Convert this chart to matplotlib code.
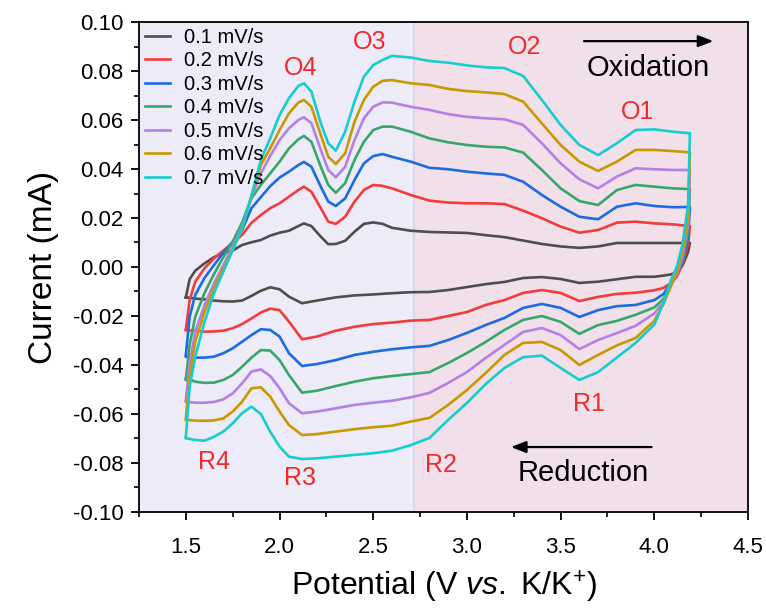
import numpy as np
import matplotlib
matplotlib.use("Agg")
import matplotlib.pyplot as plt
from matplotlib.ticker import MultipleLocator, FuncFormatter

plt.rcParams["font.family"] = ["Liberation Sans", "DejaVu Sans"]
plt.rcParams["axes.unicode_minus"] = False
plt.rcParams["mathtext.fontset"] = "custom"
plt.rcParams["mathtext.rm"] = "Liberation Sans"
plt.rcParams["mathtext.it"] = "Liberation Sans:italic"

# potentials (V) of the read-off points, anodic sweep then cathodic sweep
ox_potential = [1.50, 1.52, 1.55, 1.60, 1.65, 1.70, 1.75, 1.80, 1.85, 1.90, 1.95, 2.00, 2.05,
                2.10, 2.13, 2.17, 2.22, 2.26, 2.30, 2.35, 2.40, 2.45, 2.50, 2.55, 2.60, 2.70,
                2.80, 2.90, 3.00, 3.10, 3.20, 3.30, 3.40, 3.50, 3.60, 3.70, 3.80, 3.90, 4.00,
                4.10, 4.19]
red_potential = [4.19, 4.18, 4.15, 4.12, 4.09, 4.05, 4.00, 3.90, 3.80, 3.70, 3.60, 3.50, 3.40,
                 3.30, 3.20, 3.10, 3.00, 2.90, 2.80, 2.70, 2.60, 2.50, 2.40, 2.30, 2.20, 2.12,
                 2.05, 2.00, 1.95, 1.90, 1.85, 1.80, 1.75, 1.70, 1.65, 1.60, 1.55, 1.50]

# current (mA), anodic sweep
ox_01 = [-0.0124, -0.005, -0.0015, 0.0015, 0.004, 0.0056, 0.0067, 0.009, 0.0101, 0.011, 0.0128,
         0.014, 0.0148, 0.0167, 0.0178, 0.0167, 0.0124, 0.0093, 0.0094, 0.0107, 0.0144, 0.0176,
         0.0182, 0.0176, 0.016, 0.0148, 0.0143, 0.0141, 0.0139, 0.013, 0.0122, 0.0108, 0.0094,
         0.0084, 0.0078, 0.0084, 0.0098, 0.0098, 0.0098, 0.0098, 0.0098]
ox_02 = [-0.0257, -0.0135, -0.006, -0.0005, 0.0035, 0.0067, 0.0097, 0.0131, 0.018, 0.0212, 0.024,
         0.026, 0.0287, 0.0314, 0.0328, 0.0307, 0.024, 0.0185, 0.0176, 0.0205, 0.0267, 0.0314,
         0.0335, 0.0331, 0.0321, 0.0294, 0.0271, 0.0263, 0.026, 0.026, 0.0257, 0.023, 0.0199,
         0.0165, 0.014, 0.0151, 0.0181, 0.0185, 0.0178, 0.0174, 0.0167]
ox_03 = [-0.0359, -0.0203, -0.0114, -0.0044, 0.0008, 0.0058, 0.0103, 0.0151, 0.024, 0.0285, 0.033,
         0.0365, 0.0389, 0.0416, 0.0429, 0.0409, 0.0328, 0.0267, 0.0249, 0.028, 0.0355, 0.0423,
         0.0453, 0.0461, 0.045, 0.043, 0.0405, 0.0399, 0.0389, 0.0382, 0.0376, 0.0348, 0.0294,
         0.0246, 0.0205, 0.0195, 0.0246, 0.026, 0.0249, 0.0244, 0.0245]
ox_04 = [-0.0461, -0.0318, -0.0203, -0.0105, -0.0029, 0.004, 0.0103, 0.0182, 0.028, 0.0335, 0.0382,
         0.043, 0.0484, 0.0521, 0.0535, 0.0511, 0.0409, 0.0335, 0.0303, 0.0342, 0.0437, 0.0511,
         0.0559, 0.0573, 0.0573, 0.0552, 0.0525, 0.0509, 0.0498, 0.0491, 0.0488, 0.0467, 0.0396,
         0.0321, 0.0269, 0.0253, 0.0314, 0.0335, 0.0328, 0.0321, 0.0318]
ox_05 = [-0.0543, -0.0393, -0.0264, -0.0155, -0.0067, 0.0008, 0.0083, 0.0165, 0.0285, 0.0382,
         0.0453, 0.0518, 0.0566, 0.06, 0.0611, 0.0587, 0.0478, 0.0396, 0.0366, 0.0409, 0.0518,
         0.0607, 0.0654, 0.0672, 0.0671, 0.0654, 0.0641, 0.0624, 0.0613, 0.0607, 0.0603, 0.058,
         0.0505, 0.0423, 0.0358, 0.0321, 0.0369, 0.0403, 0.0399, 0.0396, 0.0396]
ox_06 = [-0.0618, -0.0448, -0.0305, -0.0182, -0.0087, -0.0005, 0.0069, 0.0158, 0.029, 0.0416,
         0.0484, 0.0559, 0.0627, 0.0671, 0.0682, 0.0654, 0.0539, 0.045, 0.042, 0.0464, 0.0593,
         0.0682, 0.0736, 0.076, 0.0763, 0.075, 0.0743, 0.0727, 0.0718, 0.0713, 0.0706, 0.0675,
         0.0586, 0.0498, 0.043, 0.0392, 0.043, 0.0478, 0.0478, 0.0473, 0.0468]
ox_07 = [-0.0693, -0.0489, -0.0366, -0.0223, -0.0107, -0.0019, 0.0069, 0.0158, 0.029, 0.0437,
         0.0525, 0.062, 0.0689, 0.0739, 0.075, 0.0716, 0.0587, 0.0505, 0.0475, 0.0552, 0.0675,
         0.0777, 0.0824, 0.0845, 0.0862, 0.0855, 0.0841, 0.0834, 0.0823, 0.0815, 0.0812, 0.078,
         0.0682, 0.058, 0.0498, 0.0457, 0.0505, 0.0559, 0.0562, 0.0552, 0.0546]

# current (mA), cathodic sweep
red_01 = [0.0098, 0.006, 0.0005, -0.002, -0.003, -0.0035, -0.004, -0.004, -0.005, -0.006, -0.0065,
          -0.0049, -0.0041, -0.0045, -0.0061, -0.007, -0.0082, -0.0094, -0.0102, -0.0103, -0.0107,
          -0.0112, -0.0116, -0.0124, -0.0137, -0.0148, -0.0121, -0.0091, -0.0083, -0.0097,
          -0.0118, -0.0137, -0.0141, -0.014, -0.0137, -0.0132, -0.0129, -0.0124]
red_02 = [0.0167, 0.009, 0.001, -0.004, -0.0065, -0.0085, -0.0095, -0.0105, -0.011, -0.0122,
          -0.0139, -0.0106, -0.0094, -0.0106, -0.0135, -0.0155, -0.0184, -0.02, -0.0216, -0.0219,
          -0.0227, -0.0233, -0.0244, -0.026, -0.0284, -0.0295, -0.0223, -0.0176, -0.017, -0.0186,
          -0.021, -0.0233, -0.025, -0.026, -0.0263, -0.0264, -0.0261, -0.0257]
red_03 = [0.0245, 0.012, 0.002, -0.003, -0.006, -0.011, -0.0135, -0.0155, -0.016, -0.0176, -0.0204,
          -0.0167, -0.0151, -0.0167, -0.0208, -0.0237, -0.0269, -0.0298, -0.0322, -0.0328, -0.0336,
          -0.0346, -0.0359, -0.038, -0.0396, -0.0404, -0.0352, -0.0284, -0.0257, -0.0254, -0.0278,
          -0.0305, -0.0332, -0.0352, -0.0366, -0.037, -0.037, -0.0366]
red_04 = [0.0318, 0.014, 0.003, -0.003, -0.007, -0.013, -0.0165, -0.0195, -0.022, -0.0237, -0.0273,
          -0.0224, -0.02, -0.0216, -0.0257, -0.0306, -0.0351, -0.0392, -0.0429, -0.0437, -0.0445,
          -0.0454, -0.0468, -0.0486, -0.0505, -0.0513, -0.0441, -0.038, -0.0341, -0.0339, -0.037,
          -0.0407, -0.0441, -0.0461, -0.0472, -0.0473, -0.0468, -0.0454]
red_05 = [0.0396, 0.017, 0.004, -0.003, -0.0075, -0.014, -0.019, -0.024, -0.027, -0.0298, -0.0335,
          -0.0278, -0.0249, -0.0265, -0.0318, -0.0371, -0.0429, -0.0473, -0.0514, -0.0532, -0.0546,
          -0.0554, -0.0563, -0.0577, -0.059, -0.0597, -0.0556, -0.0495, -0.0445, -0.0418, -0.0427,
          -0.0475, -0.0516, -0.054, -0.0551, -0.0554, -0.0554, -0.055]
red_06 = [0.0469, 0.02, 0.006, -0.002, -0.0075, -0.015, -0.022, -0.029, -0.032, -0.0359, -0.04,
          -0.0339, -0.0306, -0.031, -0.0359, -0.0433, -0.0502, -0.0563, -0.0616, -0.0631, -0.0648,
          -0.0654, -0.0662, -0.0672, -0.0682, -0.0686, -0.0645, -0.059, -0.0529, -0.0491, -0.0495,
          -0.055, -0.059, -0.0618, -0.0626, -0.0628, -0.0627, -0.0624]
red_07 = [0.0547, 0.025, 0.009, 0.0, -0.005, -0.0145, -0.0235, -0.031, -0.037, -0.0429, -0.0461,
          -0.0412, -0.0362, -0.0368, -0.0412, -0.0478, -0.0555, -0.0624, -0.0698, -0.0727, -0.075,
          -0.076, -0.0767, -0.0774, -0.0781, -0.0784, -0.0774, -0.0733, -0.0672, -0.06, -0.057,
          -0.0597, -0.0638, -0.0672, -0.0693, -0.0709, -0.0706, -0.0699]

scan_rates = ["0.1 mV/s", "0.2 mV/s", "0.3 mV/s", "0.4 mV/s", "0.5 mV/s", "0.6 mV/s", "0.7 mV/s"]
colors = ["#4d4d4d", "#f23b3b", "#1c6be0", "#36a76b", "#b47fe6", "#c99700", "#17cccc"]

peak_labels = ["O4", "O3", "O2", "O1", "R1", "R2", "R3", "R4"]
peak_pos = [(2.11, 0.0812), (2.48, 0.0918), (3.31, 0.0898), (3.91, 0.0633),
            (3.65, -0.0559), (2.86, -0.0808), (2.11, -0.0861), (1.65, -0.0796)]

ox_all = [ox_01, ox_02, ox_03, ox_04, ox_05, ox_06, ox_07]
red_all = [red_01, red_02, red_03, red_04, red_05, red_06, red_07]

fig = plt.figure(figsize=(7.66, 6.10), dpi=100)
ax = fig.add_axes([0.1815, 0.1607, 0.795, 0.8032])

# shaded regions
ax.axvspan(1.25, 2.72, color="#ecebf7", zorder=0, lw=0)
ax.axvspan(2.72, 4.5, color="#f1e0ea", zorder=0, lw=0)
ax.axvline(2.72, color="#dcd0e6", lw=1.2, zorder=0.5)

for ox, red, lab, c in zip(ox_all, red_all, scan_rates, colors):
    v = np.concatenate([ox_potential, red_potential])
    i = np.concatenate([ox, red])
    ax.plot(v, i, color=c, lw=1.9, label=lab, solid_joinstyle="round")

for lab, (x, y) in zip(peak_labels, peak_pos):
    ax.text(x, y, lab, color="#ee2a2a", fontsize=18, ha="center", va="center")

ax.annotate("", xy=(4.33, 0.0922), xytext=(3.61, 0.0922),
            arrowprops=dict(arrowstyle="-|>,head_length=0.9,head_width=0.35", color="black", lw=1.6))
ax.text(3.965, 0.0812, "Oxidation", fontsize=21, ha="center", va="center")
ax.annotate("", xy=(3.22, -0.0735), xytext=(4.0, -0.0735),
            arrowprops=dict(arrowstyle="-|>,head_length=0.9,head_width=0.35", color="black", lw=1.6))
ax.text(3.62, -0.0841, "Reduction", fontsize=21, ha="center", va="center")

ax.set_xlim(1.25, 4.5)
ax.set_ylim(-0.10, 0.10)
ax.set_xticks([1.5, 2.0, 2.5, 3.0, 3.5, 4.0, 4.5])
ax.xaxis.set_minor_locator(MultipleLocator(0.25))
ax.yaxis.set_major_locator(MultipleLocator(0.02))
ax.yaxis.set_minor_locator(MultipleLocator(0.01))
ax.xaxis.set_major_formatter(FuncFormatter(lambda v, p: f"{v:.1f}"))
ax.yaxis.set_major_formatter(FuncFormatter(lambda v, p: "0.00" if abs(v) < 1e-9 else f"{v:.2f}"))
ax.tick_params(which="major", direction="out", length=6, width=1.3, labelsize=16)
ax.tick_params(axis="x", which="major", pad=12)
ax.tick_params(axis="y", which="major", pad=5)
ax.tick_params(which="minor", direction="out", length=3.5, width=1.2)
for s in ax.spines.values():
    s.set_linewidth(1.3)

ax.set_xlabel(r"Potential (V $\it{vs.}$ K/K$^{+}$)", fontsize=23, labelpad=8)
ax.set_ylabel("Current (mA)", fontsize=24, labelpad=10)

ax.legend(loc="upper left", frameon=False, fontsize=14.5, handlelength=1.25,
          handletextpad=0.7, labelspacing=0.22, borderaxespad=0.1, borderpad=0.2)

fig.savefig("out.png", dpi=100)
